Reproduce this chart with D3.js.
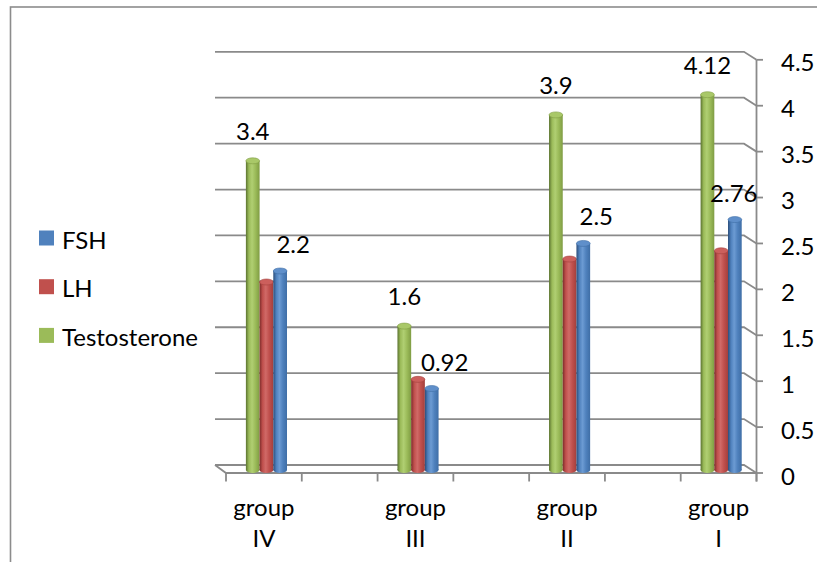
<!DOCTYPE html>
<html>
<head>
<meta charset="utf-8">
<script src="https://cdn.jsdelivr.net/npm/d3@7/dist/d3.min.js"></script>
<style>
  html, body { margin: 0; padding: 0; background: #fff; }
  svg { display: block; }
  text { font-family: Lato, "Open Sans", sans-serif; fill: #000; }
</style>
</head>
<body>
<svg id="chart" width="817" height="562"></svg>
<script>
// Hormone levels per group
const categories = ["group IV", "group III", "group II", "group I"];
const seriesNames = ["Testosterone", "LH", "FSH"];
const testosterone = [3.4, 1.6, 3.9, 4.12];
const lh = [2.08, 1.02, 2.33, 2.42];
const fsh = [2.2, 0.92, 2.5, 2.76];
const yTicks = [0, 0.5, 1, 1.5, 2, 2.5, 3, 3.5, 4, 4.5];
const legendOrder = ["FSH", "LH", "Testosterone"];

const seriesValues = { "Testosterone": testosterone, "LH": lh, "FSH": fsh };
const labelled = { "Testosterone": true, "LH": false, "FSH": true };
const palette = {
  "Testosterone": { base: "#9bbb59", dark: "#5b7330", light: "#b0cf72", edge: "#7f9c43", cap: "#a9c868" },
  "LH":           { base: "#c0504d", dark: "#7d2c2a", light: "#d06a67", edge: "#a33f3c", cap: "#cc5f5c" },
  "FSH":          { base: "#4f81bd", dark: "#2b4d7a", light: "#6c9bd3", edge: "#3f6ea6", cap: "#5f8fca" }
};
const fontSize = 24;

const svg = d3.select("#chart");

// 3D floor geometry: back plane and front plane offset
const depthX = 11.5, depthY = 8;
const backLeft = 215, backRight = 744;
const frontLeft = backLeft + depthX - 0.5, frontRight = 756.5;

const yBack = d3.scaleLinear().domain([0, 4.5]).range([465, 51.8]);
const yFront = v => yBack(v) + depthY;
const yBar = v => yBack(v) + 5;

// seven slots along the floor: every other one holds a group
const slots = d3.range(categories.length * 2 - 1);
const xSlot = d3.scaleBand().domain(slots).range([frontLeft, frontRight]);
const catCenter = i => xSlot(i * 2) + xSlot.bandwidth() / 2;

const xSeries = d3.scaleBand().domain(seriesNames).range([-18, 23.1]);

// outer chart frame
svg.append("rect")
  .attr("x", 10.5).attr("y", 7).attr("width", 900).attr("height", 900)
  .attr("fill", "none").attr("stroke", "#8c8c8c").attr("stroke-width", 1.6);

// gradients for cylinder shading
const defs = svg.append("defs");
seriesNames.forEach(s => {
  const p = palette[s];
  const g = defs.append("linearGradient").attr("id", "grad-" + s)
    .attr("x1", "0%").attr("x2", "100%").attr("y1", "0%").attr("y2", "0%");
  [[0, p.dark], [0.22, p.base], [0.45, p.light], [0.7, p.base], [1, p.edge]]
    .forEach(([o, c]) => g.append("stop").attr("offset", o).attr("stop-color", c));
});

// gridlines on the back wall bending to the front axis
const gridColor = "#8a8a8a";
const grid = svg.append("g").attr("fill", "none").attr("stroke", gridColor).attr("stroke-width", 1.8);
yTicks.forEach(t => {
  const yb = yBack(t), yf = yFront(t);
  const pts = t === 0
    ? [[backLeft, yb], [frontLeft, yf], [frontRight, yf]]
    : [[backLeft, yb], [backRight, yb], [frontRight, yf]];
  grid.append("path").attr("d", d3.line()(pts));
});
// floor back edge
grid.append("path").attr("d", d3.line()([[backLeft, yBack(0)], [backRight, yBack(0)], [frontRight, yFront(0)]]));

// right value axis
const axisG = svg.append("g").attr("stroke", gridColor).attr("stroke-width", 1.8);
axisG.append("line")
  .attr("x1", frontRight).attr("x2", frontRight)
  .attr("y1", yFront(4.5)).attr("y2", yFront(0) + 8.5);
yTicks.forEach(t => {
  axisG.append("line")
    .attr("x1", frontRight).attr("x2", frontRight + 6.5)
    .attr("y1", yFront(t)).attr("y2", yFront(t));
});
svg.append("g").selectAll("text").data(yTicks).join("text")
  .attr("x", 781).attr("y", d => yFront(d) + 2)
  .attr("dominant-baseline", "central")
  .attr("font-size", fontSize)
  .text(d => d3.format("")(d));

// category ticks along the front floor edge
const tickXs = slots.map(s => xSlot(s)).concat([frontRight]);
axisG.selectAll("line.cat").data(tickXs).join("line").attr("class", "cat")
  .attr("x1", d => d).attr("x2", d => d)
  .attr("y1", yFront(0)).attr("y2", yFront(0) + 8.5);

// category labels on two lines
const catLabels = svg.append("g").attr("text-anchor", "middle").attr("font-size", fontSize);
categories.forEach((c, i) => {
  const parts = c.split(" ");
  const t = catLabels.append("text").attr("x", catCenter(i)).attr("y", 516);
  t.append("tspan").attr("x", catCenter(i)).attr("dy", 0).text(parts[0]);
  t.append("tspan").attr("x", catCenter(i)).attr("dy", 31).text(parts[1]);
});

// cylinders
const bw = xSeries.bandwidth();
const capRy = 3;
const bars = svg.append("g");
categories.forEach((c, i) => {
  seriesNames.forEach(s => {
    const v = seriesValues[s][i];
    const x0 = catCenter(i) + xSeries(s);
    const top = yBar(v) + capRy;
    const bottom = yBar(0);
    const g = bars.append("g");
    g.append("ellipse")
      .attr("cx", x0 + bw / 2).attr("cy", bottom).attr("rx", bw / 2).attr("ry", capRy)
      .attr("fill", "url(#grad-" + s + ")");
    g.append("rect")
      .attr("x", x0).attr("y", top).attr("width", bw).attr("height", bottom - top)
      .attr("fill", "url(#grad-" + s + ")");
    g.append("ellipse")
      .attr("cx", x0 + bw / 2).attr("cy", top).attr("rx", bw / 2).attr("ry", capRy)
      .attr("fill", palette[s].cap).attr("stroke", palette[s].edge).attr("stroke-width", 0.6);
  });
});

// value labels
const labels = svg.append("g").attr("font-size", fontSize).attr("text-anchor", "middle");
categories.forEach((c, i) => {
  seriesNames.filter(s => labelled[s]).forEach(s => {
    const v = seriesValues[s][i];
    const barCenter = catCenter(i) + xSeries(s) + bw / 2;
    const isTop = s === "Testosterone";
    const t = labels.append("text")
      .attr("x", isTop ? barCenter : barCenter + 13)
      .attr("y", yBar(v) - (isTop ? 18 : 15))
      .text(v);
    // keep the label clear of the value axis
    const w = t.node().getComputedTextLength();
    const cx = +t.attr("x");
    if (cx + w / 2 > frontRight + 1) t.attr("x", frontRight + 1 - w / 2);
  });
});

// legend
const legend = svg.append("g").attr("font-size", fontSize);
legendOrder.forEach((s, k) => {
  const cy = 238 + k * 48.7;
  legend.append("rect").attr("x", 39).attr("y", cy - 7.5).attr("width", 15).attr("height", 15)
    .attr("fill", palette[s].base);
  legend.append("text").attr("x", 62).attr("y", cy + 1).attr("dominant-baseline", "central").text(s);
});
</script>
</body>
</html>
